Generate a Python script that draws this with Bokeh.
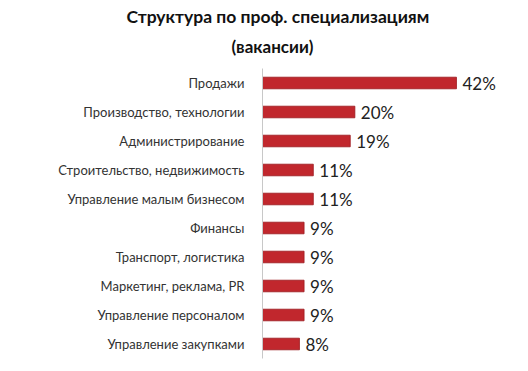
from bokeh.plotting import figure
from bokeh.models import FactorRange, Range1d, Title, ColumnDataSource
from bokeh.core.properties import value
from bokeh.embed import file_html
from bokeh.resources import INLINE

title_line1 = "Структура по проф. специализациям"
title_line2 = "(вакансии)"
categories = [
    "Продажи",
    "Производство, технологии",
    "Администрирование",
    "Строительство, недвижимость",
    "Управление малым бизнесом",
    "Финансы",
    "Транспорт, логистика",
    "Маркетинг, реклама, PR",
    "Управление персоналом",
    "Управление закупками",
]
values = [42, 20, 19, 11, 11, 9, 9, 9, 9, 8]
value_labels = [f"{v}%" for v in values]

FONT = "Lato"

src = ColumnDataSource(dict(cat=categories, val=values, lab=value_labels))

p = figure(
    y_range=FactorRange(factors=list(reversed(categories))),
    x_range=Range1d(0, 53.7),
    frame_width=248, frame_height=290,
    min_border_left=262, min_border_right=10,
    min_border_top=68, min_border_bottom=5,
    output_backend="svg", toolbar_location=None,
    background_fill_color="white", border_fill_color="white",
)
p.outline_line_color = None
p.xgrid.visible = False
p.ygrid.visible = False
p.xaxis.visible = False

ax = p.yaxis[0]
ax.axis_line_color = "#c8c8c8"
ax.axis_line_width = 1
ax.major_tick_line_color = None
ax.minor_tick_line_color = None
ax.major_label_text_font = FONT
ax.major_label_text_font_size = "13px"
ax.major_label_text_color = "#333333"
ax.major_label_standoff = 12

p.hbar(y="cat", right="val", height=0.42, left=0, source=src,
       fill_color="#d9d9d9", line_color=None, fill_alpha=0.6)
p.hbar(y="cat", right="val", height=0.40, left=0, source=src,
       fill_color="#c1272d", line_color="#9e1b20", line_width=0.8)

p.text(x="val", y="cat", text="lab", source=src, x_offset=6,
       text_baseline="middle", text_align="left",
       text_font=value(FONT), text_font_size="17px", text_color="#222222")

p.add_layout(Title(text=title_line2, align="left", offset=-31, standoff=23,
                   text_font=FONT, text_font_size="17px", text_font_style="bold",
                   text_color="#111111"), "above")
p.add_layout(Title(text=title_line1, align="left", offset=-136, standoff=-8,
                   text_font=FONT, text_font_size="17.5px", text_font_style="bold",
                   text_color="#111111"), "above")

open("out.html", "w").write(file_html(p, INLINE))
